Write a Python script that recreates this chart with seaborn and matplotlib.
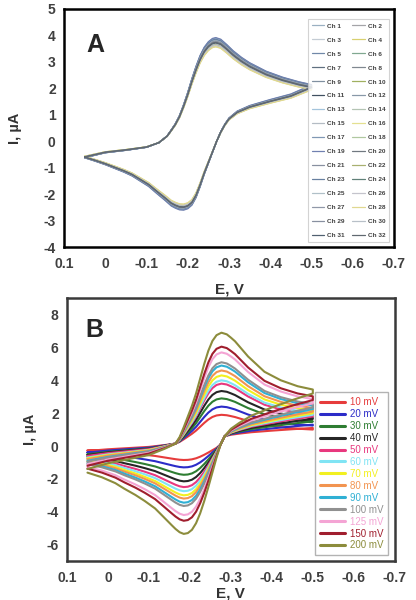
import matplotlib
matplotlib.use('Agg')
import matplotlib.pyplot as plt
import numpy as np
import pandas as pd
import seaborn as sns

sns.set_style('white')
plt.rcParams['font.family'] = ['Liberation Sans', 'DejaVu Sans']
plt.rcParams['axes.unicode_minus'] = False

# ---- panel A: template curve (forward and return branch)
a_up_E = [0.05, 0.0, -0.05, -0.1, -0.13, -0.15, -0.16, -0.17, -0.18, -0.19, -0.2, -0.21, -0.22,
          -0.23, -0.24, -0.25, -0.26, -0.268, -0.28, -0.295, -0.31, -0.33, -0.35, -0.39, -0.43,
          -0.47, -0.5]
a_up_I = [-0.6, -0.42, -0.33, -0.22, -0.05, 0.2, 0.42, 0.65, 0.95, 1.35, 1.8, 2.3, 2.75,
          3.15, 3.45, 3.65, 3.77, 3.8, 3.74, 3.54, 3.32, 3.08, 2.88, 2.57, 2.35,
          2.18, 2.08]
a_low_E = [-0.5, -0.45, -0.4, -0.35, -0.32, -0.3, -0.29, -0.28, -0.27, -0.26, -0.25, -0.24,
           -0.23, -0.22, -0.21, -0.2, -0.19, -0.18, -0.17, -0.16, -0.145, -0.125, -0.105,
           -0.085, -0.065, -0.045, -0.025, 0.0, 0.025, 0.05]
a_low_I = [2.05, 1.72, 1.52, 1.3, 1.1, 0.85, 0.63, 0.35, 0.0, -0.4, -0.8, -1.2,
           -1.65, -2.05, -2.32, -2.45, -2.5, -2.49, -2.43, -2.35, -2.15, -1.9, -1.64,
           -1.45, -1.26, -1.12, -1.0, -0.85, -0.72, -0.6]

channels = ['Ch %d' % i for i in range(1, 33)]
ch_ipa = [3.85, 3.78, 3.7, 3.62, 3.9, 3.75, 3.72, 3.8, 3.83, 3.65, 3.7, 3.76, 3.88, 3.6, 3.74, 3.58,
          3.82, 3.68, 3.92, 3.73, 3.77, 3.66, 3.86, 3.71, 3.8, 3.63, 3.75, 3.57, 3.79, 3.69, 3.72, 3.74]
ch_ipc = [-2.55, -2.48, -2.45, -2.4, -2.58, -2.5, -2.47, -2.52, -2.54, -2.42, -2.46, -2.5, -2.56, -2.4,
          -2.49, -2.38, -2.53, -2.44, -2.6, -2.48, -2.51, -2.43, -2.55, -2.47, -2.52, -2.41, -2.5,
          -2.37, -2.51, -2.45, -2.48, -2.49]
ch_colors = ['#9ab0c2', '#a4a4a8', '#c4ccd4', '#d8d070', '#7088a8', '#80a890', '#607080', '#808890',
             '#8090a0', '#a0b060', '#405060', '#8898a8', '#a4c4dc', '#b4c4b4', '#b4bcc4', '#e4e090',
             '#8098b4', '#b0c8a0', '#7080b0', '#707880', '#8890a0', '#a8b070', '#6880a0', '#608078',
             '#b0c0c8', '#c4c4cc', '#9098a8', '#e0d890', '#8890a0', '#b8c0c8', '#506070', '#606870']

# ---- panel B: 200 mV/s curve, plus values per scan rate
b_up_E = [0.05, 0.0, -0.05, -0.1, -0.14, -0.165, -0.175, -0.185, -0.195, -0.205, -0.215, -0.225,
          -0.235, -0.245, -0.255, -0.265, -0.277, -0.29, -0.3, -0.31, -0.342, -0.382, -0.422,
          -0.463, -0.5]
b_up_I = [-1.4, -1.05, -0.8, -0.55, -0.15, 0.15, 0.55, 1.15, 1.8, 2.45, 3.2, 4.1,
          5.0, 5.8, 6.4, 6.75, 6.9, 6.8, 6.6, 6.38, 5.45, 4.52, 4.0,
          3.64, 3.44]
b_low_E = [-0.5, -0.45, -0.4, -0.35, -0.32, -0.3, -0.285, -0.275, -0.265, -0.255, -0.245, -0.235,
           -0.225, -0.215, -0.205, -0.195, -0.185, -0.175, -0.165, -0.156, -0.135, -0.115, -0.09,
           -0.067, -0.04, -0.018, 0.015, 0.05]
b_low_I = [3.2, 2.8, 2.35, 1.85, 1.4, 1.05, 0.6, 0.1, -0.7, -1.6, -2.5, -3.35,
           -4.1, -4.7, -5.1, -5.3, -5.35, -5.25, -5.05, -4.83, -4.3, -3.8, -3.35,
           -2.98, -2.6, -2.26, -1.9, -1.62]

rates = ['10 mV', '20 mV', '30 mV', '40 mV', '50 mV', '60 mV', '70 mV', '80 mV', '90 mV',
         '100 mV', '125 mV', '150 mV', '200 mV']
rate_ipa = [1.9, 2.4, 2.9, 3.35, 3.8, 4.0, 4.3, 4.6, 4.9, 5.1, 5.7, 6.05, 6.9]
rate_ipc = [-0.85, -1.3, -1.75, -2.15, -2.5, -2.75, -3.0, -3.2, -3.45, -3.65, -4.2, -4.55, -5.35]
rate_up_left = [-0.3, -0.4, -0.5, -0.55, -0.6, -0.7, -0.75, -0.8, -0.9, -0.95, -1.1, -1.2, -1.4]
rate_low_right = [1.1, 1.3, 1.5, 1.65, 1.8, 1.9, 2.0, 2.1, 2.25, 2.35, 2.6, 2.8, 3.2]
rate_colors = ['#e63c3c', '#2c2cc8', '#2e7d32', '#262626', '#e8387e', '#80e4f4', '#f2f020',
               '#f29450', '#30b0d4', '#909090', '#f4a4d4', '#a01e2e', '#8c8c3c']
# points where all the curves of panel B cross
up_cross = 0.15
low_cross = 0.6


def build_a():
    rows = []
    for ch, pa, pc in zip(channels, ch_ipa, ch_ipc):
        up = np.array(a_up_I) * pa / 3.8
        low = np.array(a_low_I) * pc / -2.5
        E = list(a_up_E) + list(a_low_E)
        I = list(up) + list(low)
        rows += [{'E': e, 'I': i, 'ch': ch} for e, i in zip(E, I)]
    return pd.DataFrame(rows)


def build_b():
    rows = []
    for k, r in enumerate(rates):
        up = np.array(b_up_I)
        c = up_cross
        up = np.where(up > c, c + (up - c) * (rate_ipa[k] - c) / (6.9 - c),
                      c + (up - c) * (rate_up_left[k] - c) / (-1.4 - c))
        low = np.array(b_low_I)
        c = low_cross
        low = np.where(low > c, c + (low - c) * (rate_low_right[k] - c) / (3.2 - c),
                       np.where(low > 0, low, low * rate_ipc[k] / -5.35))
        E = list(b_up_E) + list(b_low_E)
        I = list(up) + list(low)
        rows += [{'E': e, 'I': i, 'rate': r} for e, i in zip(E, I)]
    return pd.DataFrame(rows)


def style_axes(ax, yticks, spine_col):
    ax.set_xlim(0.1, -0.7)
    ax.set_xticks(np.round(np.arange(0.1, -0.71, -0.1), 1))
    ax.set_xticklabels(['0.1', '0', '-0.1', '-0.2', '-0.3', '-0.4', '-0.5', '-0.6', '-0.7'])
    ax.set_yticks(yticks)
    ax.tick_params(direction='in', length=4, width=1.2, labelsize=10, colors='#222222',
                   labelcolor='#404040')
    ax.tick_params(axis='x', pad=7)
    ax.tick_params(axis='y', pad=6)
    for lab in ax.get_xticklabels() + ax.get_yticklabels():
        lab.set_fontweight('bold')
    for s in ax.spines.values():
        s.set_color(spine_col)
        s.set_linewidth(1.8)


fig = plt.figure(figsize=(4.16, 6.0), dpi=100)
axA = fig.add_axes([0.154, 0.588, 0.793, 0.397])
axB = fig.add_axes([0.161, 0.065, 0.788, 0.438])

# panel A
dfa = build_a()
sns.lineplot(data=dfa, x='E', y='I', hue='ch', palette=ch_colors, sort=False, estimator=None,
             linewidth=0.9, legend=False, ax=axA)
axA.set_ylim(-4, 5)
style_axes(axA, range(-4, 6), 'black')
axA.set_xlabel('E, V', fontsize=11, fontweight='bold', color='#333333')
axA.set_ylabel('I, µA', fontsize=10.5, fontweight='bold', color='#333333')
axA.xaxis.set_label_coords(0.5, -0.15)
axA.yaxis.set_label_coords(-0.128, 0.5)
axA.text(0.094, 0.85, 'A', transform=axA.transAxes, fontsize=18, fontweight='bold',
         ha='center', va='center')
lines = axA.get_lines()
order = list(range(0, 32, 2)) + list(range(1, 32, 2))
leg = axA.legend([lines[i] for i in order], [channels[i] for i in order], ncol=2,
                 loc='upper right', bbox_to_anchor=(0.995, 0.97),
                 prop={'weight': 'bold', 'size': 4.6}, labelspacing=1.33, handlelength=2.0,
                 handletextpad=0.4, columnspacing=1.2, borderpad=0.6, frameon=True,
                 fancybox=False, edgecolor='#c8c8c8')
leg.get_frame().set_linewidth(0.8)
for t in leg.get_texts():
    t.set_color('#404040')

# panel B
dfb = build_b()
sns.lineplot(data=dfb, x='E', y='I', hue='rate', palette=rate_colors, sort=False, estimator=None,
             linewidth=1.5, legend=False, ax=axB)
axB.set_ylim(-7, 9)
style_axes(axB, range(-6, 9, 2), '#3a3a3a')
axB.set_xlabel('E, V', fontsize=11, fontweight='bold', color='#333333')
axB.set_ylabel('I, µA', fontsize=10.5, fontweight='bold', color='#333333')
axB.xaxis.set_label_coords(0.5, -0.098)
axB.yaxis.set_label_coords(-0.09, 0.5)
axB.text(0.085, 0.878, 'B', transform=axB.transAxes, fontsize=18, fontweight='bold',
         ha='center', va='center')
legb = axB.legend(axB.get_lines(), rates, loc='lower right', bbox_to_anchor=(0.995, 0.003),
                  prop={'size': 7}, labelspacing=0.2, handlelength=2.6, handletextpad=0.5,
                  borderpad=0.5, frameon=True, fancybox=False, edgecolor='#a0a0a0')
legb.get_frame().set_linewidth(1.0)
for t, c in zip(legb.get_texts(), rate_colors):
    t.set_color(c)
for h in legb.get_lines():
    h.set_linewidth(2.2)

fig.savefig('out.png', dpi=100)
